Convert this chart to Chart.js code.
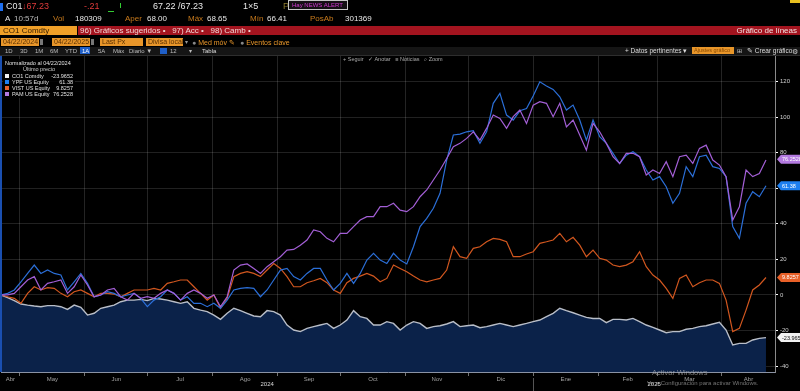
<!DOCTYPE html>
<html><head><meta charset="utf-8">
<script src="https://cdn.jsdelivr.net/npm/chart.js@4/dist/chart.umd.min.js"></script>
<style>
html,body{margin:0;padding:0;background:#000;width:800px;height:391px;overflow:hidden;font-family:"Liberation Sans",Arial,sans-serif;}
#c{position:absolute;left:0;top:0;}
.t{position:absolute;white-space:nowrap;line-height:1;}
.r1{top:2px;font-size:9px;}
.r2{top:15px;font-size:8px;}
.lab{color:#c87a1c;}
.w{color:#e8e8e8;}
.ob{position:absolute;top:38px;height:8px;background:#e8962a;color:#5a3000;font-size:7px;line-height:8px;padding-left:2px;box-sizing:border-box;white-space:nowrap;overflow:hidden;}
.r5{top:48px;font-size:6px;color:#bdbdbd;}
.lg{position:absolute;font-size:5.5px;color:#e0e0e0;white-space:nowrap;line-height:1;}
.sq{position:absolute;width:4px;height:4px;}
</style></head><body>
<canvas id="c" width="800" height="391"></canvas>

<!-- header row 1 -->
<div style="position:absolute;left:0;top:3px;width:3px;height:8px;background:#1e6ff0"></div>
<div class="t r1 w" style="left:6px">C01</div>
<div class="t r1" style="left:22px;color:#e03a3a">&#8595;67.23</div>
<div class="t r1" style="left:84px;color:#e03a3a">-.21</div>
<div style="position:absolute;left:108px;top:11px;width:6px;height:1px;background:#3c3"></div>
<div style="position:absolute;left:120px;top:3px;width:1px;height:5px;background:#3c3"></div>
<div class="t r1 w" style="left:153px">67.22 /67.23</div>
<div class="t r1 w" style="left:243px">1&#215;5</div>
<div class="t r1" style="left:283px;color:#8a7a30">Prev 67.44</div>
<div style="position:absolute;left:288px;top:0px;width:60px;height:10px;border:1px solid #c8c8c8;background:#141014;box-sizing:border-box;"></div>
<div class="t" style="left:292px;top:2px;font-size:6px;color:#d23ad2">Hay NEWS ALERT</div>
<div style="position:absolute;left:790px;top:0px;width:10px;height:3px;background:#e8c020"></div>

<!-- header row 2 -->
<div class="t r2 w" style="left:5px">A</div>
<div class="t r2" style="left:14px;color:#bbb">10:57d</div>
<div class="t r2 lab" style="left:53px">Vol</div>
<div class="t r2 w" style="left:75px">180309</div>
<div class="t r2 lab" style="left:125px">Aper</div>
<div class="t r2 w" style="left:147px">68.00</div>
<div class="t r2 lab" style="left:188px">Máx</div>
<div class="t r2 w" style="left:207px">68.65</div>
<div class="t r2 lab" style="left:250px">Mín</div>
<div class="t r2 w" style="left:267px">66.41</div>
<div class="t r2 lab" style="left:310px">PosAb</div>
<div class="t r2 w" style="left:345px">301369</div>

<!-- header row 3 -->
<div style="position:absolute;left:0;top:26px;width:77px;height:9px;background:#f0a028"></div>
<div class="t" style="left:3px;top:27px;font-size:8px;color:#3a2000">CO1 Comdty</div>
<div style="position:absolute;left:78px;top:26px;width:722px;height:9px;background:#a3141f"></div>
<div class="t" style="left:80px;top:27px;font-size:8px;color:#f2d6d6">96) Gráficos sugeridos &#8226;&nbsp;&nbsp; 97) Acc &#8226;&nbsp;&nbsp; 98) Camb &#8226;</div>
<div class="t" style="right:3px;top:27px;font-size:8px;color:#f2e2e2">Gráfico de líneas</div>

<!-- header row 4 -->
<div class="ob" style="left:1px;width:38px">04/22/2024</div>
<div style="position:absolute;left:40px;top:39px;width:3px;height:6px;background:#777"></div>
<div class="ob" style="left:52px;width:38px">04/22/2025</div>
<div style="position:absolute;left:91px;top:39px;width:3px;height:6px;background:#777"></div>
<div class="ob" style="left:100px;width:43px">Last Px</div>
<div class="ob" style="left:146px;width:37px">Divisa local</div>
<div class="t" style="left:185px;top:39px;font-size:6px;color:#999">&#9662;</div>
<div class="t" style="left:192px;top:39px;font-size:7px;color:#e8962a"><span style="color:#888">&#9679;</span> Med móv &#9998;</div>
<div class="t" style="left:240px;top:39px;font-size:7px;color:#e8962a"><span style="color:#888">&#9679;</span> Eventos clave</div>

<!-- header row 5 -->
<div style="position:absolute;left:0;top:47px;width:800px;height:8px;background:#151515"></div>
<div style="position:absolute;left:0;top:55px;width:800px;height:1px;background:#2e2e2e"></div>
<div class="t r5" style="left:5px">1D</div>
<div class="t r5" style="left:20px">3D</div>
<div class="t r5" style="left:35px">1M</div>
<div class="t r5" style="left:50px">6M</div>
<div class="t r5" style="left:65px">YTD</div>
<div style="position:absolute;left:80px;top:47px;width:10px;height:7px;background:#1f5fc8"></div>
<div class="t r5" style="left:82px;color:#fff">1A</div>
<div class="t r5" style="left:98px">5A</div>
<div class="t r5" style="left:113px">Máx</div>
<div class="t r5" style="left:129px">Diario &#9660;</div>
<div style="position:absolute;left:160px;top:48px;width:7px;height:6px;background:#1f5fc8"></div>
<div class="t r5" style="left:170px">12</div>
<div class="t r5" style="left:189px">&#9662;</div>
<div class="t r5" style="left:202px;color:#ddd">Tabla</div>
<div class="t r5" style="left:625px;color:#ddd;font-size:6.5px">+ Datos pertinentes &#9662;</div>
<div style="position:absolute;left:692px;top:47px;width:42px;height:7px;background:#e8962a"></div>
<div class="t" style="left:694px;top:48px;font-size:5.5px;color:#8a4a00">Ajustes gráfico</div>
<div class="t r5" style="left:737px;color:#ccc">&#8862;</div>
<div class="t r5" style="left:747px;color:#ddd;font-size:6.5px">&#9998; Crear gráfico</div>
<div class="t r5" style="left:792px;color:#ccc;font-size:7px">&#9881;</div>

<!-- chart toolbar -->
<div class="t" style="left:343px;top:57px;font-size:5.5px;color:#a8a8a8">+ Seguir &nbsp;&nbsp;&#10003; Anotar &nbsp;&nbsp;&#8801; Noticias &nbsp;&nbsp;&#8981; Zoom</div>

<!-- left edge -->
<div style="position:absolute;left:0;top:56px;width:1.5px;height:316px;background:#1a4fb0"></div>

<!-- legend -->
<div style="position:absolute;left:3px;top:59px;width:72px;height:39px;background:rgba(0,0,0,0.85)"></div>
<div class="lg" style="left:5px;top:61px">Normalizado al 04/22/2024</div>
<div class="lg" style="left:23px;top:67px;color:#cfcfcf">Último precio</div>
<div id="legendRows"></div>

<!-- watermark -->
<div class="t" style="left:652px;top:369px;font-size:7.5px;color:rgba(190,190,190,0.6)">Activar Windows</div>
<div class="t" style="left:647px;top:380px;font-size:6px;color:rgba(190,190,190,0.6)">Ve a Configuración para activar Windows.</div>

<script>
// ---- data (normalized % change since 04/22/2024) ----
const seriesNames = ['CO1 Comdty','YPF US Equity','VIST US Equity','PAM US Equity'];
const lastPrices  = ['-23.9652','61.38','9.8257','76.2528'];
const lastValues  = [-23.9652, 61.38, 9.8257, 76.2528];
const monthLabels = ['Abr','May','Jun','Jul','Ago','Sep','Oct','Nov','Dic','Ene','Feb','Mar','Abr'];
const yearLabels  = ['2024','2025'];
const yTicks      = [-40,-20,0,20,40,60,80,100,120];

const CO1 = [0,-1.5,-3.2,-5.1,-5.7,-6.2,-6.6,-6.0,-6.0,-6.6,-8.1,-5.7,-7.0,-11.3,-10.3,-7.5,-6.6,-5.7,-3.8,-2.9,-2.9,-2.5,-3.2,-1.9,-2.3,-2.9,-3.8,-4.7,-3.8,-7.5,
 -8.5,-9.4,-11.3,-13.7,-10.3,-7.5,-8.8,-10.3,-11.8,-12.2,-8.8,-9.4,-11.3,-16.9,-19.7,-20.6,-18.8,-17.8,-16.9,-16.0,-18.8,-16.9,-14.1,-8.8,-12.2,-13.2,-16.9,-16.9,-15.0,-16.0,
 -19.7,-16.9,-15.0,-16.0,-18.8,-17.8,-17.3,-16.3,-15.0,-17.8,-17.3,-16.9,-18.4,-17.8,-16.9,-16.0,-16.9,-17.8,-16.9,-16.0,-15.0,-14.1,-12.2,-10.3,-7.5,-8.8,-10.0,-11.3,-12.6,-13.2,
 -13.2,-15.6,-13.7,-13.7,-14.1,-13.2,-15.0,-16.9,-18.2,-19.7,-21.2,-20.6,-20.6,-19.3,-18.8,-17.8,-17.3,-16.3,-15.4,-19.7,-28.1,-27.2,-27.2,-25.3,-24.4,-24.0];
const YPF = [0,0.9,2.8,7.4,12.1,16.8,12.1,14.0,12.1,11.2,2.8,7.4,12.1,6.5,-1.0,0.0,1.8,0.9,-1.0,0,0.9,-1.9,-6.6,-2.9,-1.0,2.8,0.9,-2.9,-1.0,-4.7,
 -4.7,-6.6,-4.7,-7.5,-2.9,2.8,3.7,4.1,3.7,-1.0,2.8,8.4,14.0,14.9,10.3,8.4,12.1,14.9,14.9,8.4,2.8,6.5,12.1,6.5,12.1,19.6,23.4,19.6,17.7,23.4,
 19.6,17.4,27.1,38.4,43.0,48.7,57.1,75.8,89.9,90.4,91.7,92.3,85.2,91.7,107.7,113.3,101.1,98.3,103.5,104.8,111.8,119.8,117.4,115.5,111.4,103.9,106.7,98.3,87.0,98.3,
 88.9,85.2,79.6,73.9,78.6,80.5,77.7,70.2,64.6,66.5,60.8,51.5,57.1,72.1,66.5,77.7,78.6,72.1,71.1,66.5,38.4,31.8,51.5,58.0,55.2,61.4];
const VIST = [0,-1.0,-1.9,-4.7,0.9,4.6,2.8,4.1,3.7,0.9,-1.0,1.8,2.8,0.9,-1.0,0.9,0.9,0.5,-1.0,0.9,2.8,2.8,2.8,3.7,2.8,6.5,7.4,8.4,8.4,4.6,
 0.9,-2.9,0,-7.5,-1.9,10.3,12.1,13.1,12.1,10.3,14.0,17.7,14.9,10.3,4.6,4.6,6.9,8.0,9.3,6.9,2.8,0.9,6.9,9.3,10.6,12.1,10.6,7.4,9.3,16.8,
 14.9,13.1,10.6,8.4,7.4,8.4,9.3,14.0,27.1,21.5,20.6,26.2,27.1,29.9,31.8,31.2,29.9,21.5,21.5,23.0,24.3,29.0,29.9,30.9,34.6,29.9,32.4,28.0,21.5,25.2,
 20.6,19.6,16.8,15.9,16.8,18.7,24.3,15.9,11.2,8.4,3.7,-1.9,9.3,11.2,4.6,6.9,8.4,8.4,6.5,-2.9,-20.6,-18.8,-8.5,2.8,5.6,9.8];
const PAM = [0,0,0.9,4.6,8.4,10.3,2.8,6.5,7.4,8.4,0.9,4.6,11.2,5.6,-1.0,0,2.8,3.7,-1.0,-2.9,0.9,-1.9,-1.0,-1.9,0.9,2.8,0.9,-2.9,0.9,2.8,
 0.9,-1.9,0,-6.6,-1.0,14.0,16.8,17.4,14.9,12.1,15.9,18.7,21.5,25.2,25.6,28.0,30.9,36.5,35.5,31.8,29.9,34.6,34.6,38.4,42.1,44.0,44.0,49.6,49.6,51.5,
 47.7,46.8,49.6,55.2,59.0,64.6,70.2,76.7,83.3,85.2,88.0,91.7,87.0,93.6,101.1,99.2,93.6,100.2,103.9,96.4,106.7,108.6,107.7,100.2,107.7,94.5,98.3,89.9,81.4,96.4,
 91.7,85.2,77.7,73.9,79.6,79.6,77.7,67.4,70.2,68.3,74.9,66.5,77.7,78.6,73.9,82.4,84.2,75.8,73.0,66.5,42.1,49.6,70.2,66.5,68.3,75.8];

// ---- styles ----
const colors = ['#b9bec8','#2b6fd8','#d2571f','#a35fd6'];
const tagBg  = ['#f2f2f2','#1e7ff0','#e86028','#b37ae0'];
const tagFg  = ['#111','#fff','#fff','#fff'];

// time axis: days since 2024-04-22, trading samples evenly spread over the year
const DAY = 86400000;
const start = Date.UTC(2024,3,22);
const end = Date.UTC(2025,3,22);
const spanDays = (end-start)/DAY;
const XMAX = 369.3;
const xDays = CO1.map((_,i)=> i*spanDays/(CO1.length-1));
const monthStarts = [];
for (let m=4;m<=15;m++) monthStarts.push((Date.UTC(2024,m,1)-start)/DAY);
const bounds = [0,...monthStarts,XMAX];
const mids = monthLabels.map((_,k)=> (bounds[k]+bounds[k+1])/2);
const jan1 = (Date.UTC(2025,0,1)-start)/DAY;
const isMonthStart = v => monthStarts.some(m=>Math.abs(m-v)<1e-6);

// legend rows
const lr = document.getElementById('legendRows');
seriesNames.forEach((n,k)=>{
  const top = 74 + k*6;
  lr.insertAdjacentHTML('beforeend',
   `<div class="sq" style="left:5px;top:${top}px;background:${tagBg[k]}"></div>`+
   `<div class="lg" style="left:12px;top:${top}px">${n}</div>`+
   `<div class="lg" style="left:45px;width:28px;text-align:right;top:${top}px">${lastPrices[k]}</div>`);
});

const pts = arr => arr.map((v,i)=>({x:xDays[i], y:v}));

const tagsPlugin = {
  id:'tags',
  afterDraw(chart){
    const {ctx, chartArea, scales} = chart;
    const x = scales.x, y = scales.y;
    // year labels
    ctx.save();
    ctx.font = '6px "Liberation Sans", Arial';
    ctx.fillStyle = '#d8d8d8';
    ctx.textAlign = 'center'; ctx.textBaseline = 'middle';
    ctx.fillText(yearLabels[0], (x.getPixelForValue(0)+x.getPixelForValue(jan1))/2, 384);
    ctx.fillText(yearLabels[1], (x.getPixelForValue(jan1)+x.getPixelForValue(XMAX))/2, 384);
    ctx.strokeStyle = '#555'; ctx.lineWidth = 1;
    const jx = Math.round(x.getPixelForValue(jan1))+0.5;
    ctx.beginPath(); ctx.moveTo(jx,378); ctx.lineTo(jx,391); ctx.stroke();
    // last value tags
    ctx.font = '5.5px "Liberation Sans", Arial';
    ctx.textAlign = 'left';
    lastValues.forEach((v,k)=>{
      const py = y.getPixelForValue(v);
      const x0 = chartArea.right + 2;
      ctx.fillStyle = tagBg[k];
      ctx.beginPath();
      ctx.moveTo(x0, py);
      ctx.lineTo(x0+4, py-4.5);
      ctx.lineTo(800, py-4.5);
      ctx.lineTo(800, py+4.5);
      ctx.lineTo(x0+4, py+4.5);
      ctx.closePath(); ctx.fill();
      ctx.fillStyle = tagFg[k];
      ctx.fillText(lastPrices[k], x0+5, py+0.5);
    });
    ctx.restore();
  }
};

new Chart(document.getElementById('c'), {
  type:'line',
  data:{ datasets:[
    {label:seriesNames[3], data:pts(PAM), borderColor:colors[3], borderWidth:1.2, pointRadius:0, fill:false},
    {label:seriesNames[1], data:pts(YPF), borderColor:colors[1], borderWidth:1.2, pointRadius:0, fill:false},
    {label:seriesNames[2], data:pts(VIST), borderColor:colors[2], borderWidth:1.2, pointRadius:0, fill:false},
    {label:seriesNames[0], data:pts(CO1), borderColor:colors[0], borderWidth:1.4, pointRadius:0, fill:'start', backgroundColor:'#0b2249'}
  ]},
  options:{
    responsive:false, animation:false,
    layout:{padding:{top:56,left:1,right:0,bottom:0}},
    plugins:{legend:{display:false}, tooltip:{enabled:false}},
    elements:{line:{tension:0}},
    scales:{
      x:{type:'linear', min:0, max:XMAX, position:'bottom',
        afterBuildTicks: s => { s.ticks = [...monthStarts, ...mids].sort((a,b)=>a-b).map(v=>({value:v})); },
        afterFit: s => { s.height = 19; },
        ticks:{autoSkip:false, maxRotation:0, color:'#a0a0a0', font:{size:6, family:'"Liberation Sans", Arial'}, padding:0,
          callback: v => { const k = mids.findIndex(m=>Math.abs(m-v)<1e-6); return k>=0 ? monthLabels[k] : ''; }},
        grid:{color: c => (c.tick && isMonthStart(c.tick.value)) ? 'rgba(255,255,255,0.14)' : 'rgba(0,0,0,0)',
              tickColor: c => (c.tick && isMonthStart(c.tick.value)) ? 'rgba(255,255,255,0.45)' : 'rgba(0,0,0,0)',
              tickLength:4},
        border:{color:'#8a92a4', width:1}
      },
      y:{position:'right', min:-43.3, max:134.3,
        afterBuildTicks: s => { s.ticks = yTicks.map(v=>({value:v})); },
        afterFit: s => { s.width = 25; },
        ticks:{color:'#cfcfcf', font:{size:6, family:'"Liberation Sans", Arial'}, padding:2, callback: v => String(v)},
        grid:{color:'rgba(255,255,255,0.13)', tickColor:'#ffffff', tickLength:3},
        border:{color:'#8a8a8a', width:1}
      }
    }
  },
  plugins:[tagsPlugin]
});
</script>
</body></html>
